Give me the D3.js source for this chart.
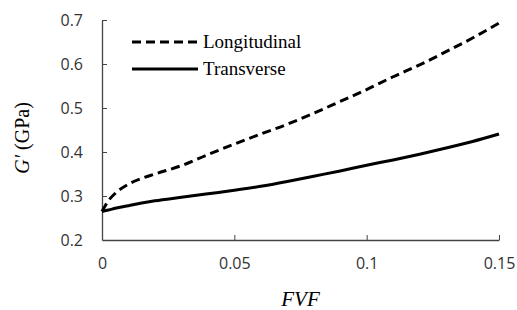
<!DOCTYPE html>
<html>
<head>
<meta charset="utf-8">
<script src="https://cdn.jsdelivr.net/npm/d3@7"></script>
<style>
  body { margin: 0; background: #fff; }
  .tick text { font-family: "Open Sans", sans-serif; font-size: 16px; fill: #333; }
  .axis path, .axis line { stroke: #444; }
</style>
</head>
<body>
<script>
// FVF waarden (x-as)
var fvf = [0, 0.0025, 0.005, 0.01, 0.015, 0.02, 0.03, 0.04, 0.05, 0.06, 0.07, 0.08, 0.09, 0.1, 0.11, 0.12, 0.13, 0.14, 0.15]

// G' (GPa) per richting
var longitudinal = [0.265, 0.29, 0.306, 0.327, 0.34, 0.35, 0.369, 0.394, 0.418, 0.441, 0.463, 0.488, 0.515, 0.542, 0.571, 0.598, 0.628, 0.659, 0.693]
var transverse = [0.265, 0.268, 0.272, 0.278, 0.284, 0.289, 0.297, 0.305, 0.313, 0.322, 0.333, 0.345, 0.357, 0.37, 0.382, 0.395, 0.409, 0.424, 0.441]

var seriesNames = ["Longitudinal", "Transverse"]
var xTicks = [0, 0.05, 0.1, 0.15]
var yTicks = [0.2, 0.3, 0.4, 0.5, 0.6, 0.7]

var width = 517
var height = 310
var margin = {top: 20, right: 18, bottom: 70, left: 102}

var svg = d3.select("body").append("svg")
    .attr("width", width)
    .attr("height", height)

var x = d3.scaleLinear().domain([0, 0.15]).range([margin.left, width - margin.right])
var y = d3.scaleLinear().domain([0.2, 0.7]).range([height - margin.bottom, margin.top])

// assen, ticks naar binnen
svg.append("g")
    .attr("class", "axis")
    .attr("transform", `translate(0,${height - margin.bottom})`)
    .call(d3.axisBottom(x).tickValues(xTicks).tickFormat(d => d === 0 ? "0" : String(d)).tickSizeInner(-5).tickSizeOuter(0).tickPadding(18))
    .call(g => g.selectAll(".tick").filter(d => d === 0).select("line").remove())

svg.append("g")
    .attr("class", "axis")
    .attr("transform", `translate(${margin.left},0)`)
    .call(d3.axisLeft(y).tickValues(yTicks).tickFormat(d3.format(".1f")).tickSizeInner(-5).tickSizeOuter(0).tickPadding(19))
    .call(g => g.selectAll(".tick").filter(d => d === 0.2).select("line").remove())

svg.selectAll(".axis .domain").attr("stroke-width", 1.3)

// lijnen
var line = d3.line()
    .x((d, i) => x(fvf[i]))
    .y(d => y(d))
    .curve(d3.curveMonotoneX)

var styles = [
  {data: longitudinal, dash: "9,5"},
  {data: transverse, dash: null}
]

styles.forEach(function(s) {
  svg.append("path")
    .datum(s.data)
    .attr("fill", "none")
    .attr("stroke", "#000")
    .attr("stroke-width", 3)
    .attr("stroke-dasharray", s.dash)
    .attr("d", line)
})

// legenda
var legend = svg.selectAll(".legend")
    .data(seriesNames)
    .enter().append("g")
    .attr("class", "legend")
    .attr("transform", (d, i) => `translate(132,${42 + i * 27})`)

legend.append("line")
    .attr("x1", 0)
    .attr("x2", 66)
    .attr("stroke", "#000")
    .attr("stroke-width", 3)
    .attr("stroke-dasharray", (d, i) => styles[i].dash)

legend.append("text")
    .attr("x", 71)
    .attr("y", 6)
    .style("font-family", "'Liberation Serif', 'Times New Roman', serif")
    .style("font-size", "19px")
    .text(d => d)

// as labels
svg.append("text")
    .attr("x", (margin.left + width - margin.right) / 2)
    .attr("y", 306)
    .attr("text-anchor", "middle")
    .style("font-family", "'Liberation Serif', 'Times New Roman', serif")
    .style("font-size", "21px")
    .style("font-style", "italic")
    .text("FVF")

var yl = svg.append("text")
    .attr("transform", "translate(29,138) rotate(-90)")
    .attr("text-anchor", "middle")
    .style("font-family", "'Liberation Serif', 'Times New Roman', serif")
    .style("font-size", "20px")
yl.append("tspan").style("font-style", "italic").text("G′")
yl.append("tspan").text(" (GPa)")
</script>
</body>
</html>
